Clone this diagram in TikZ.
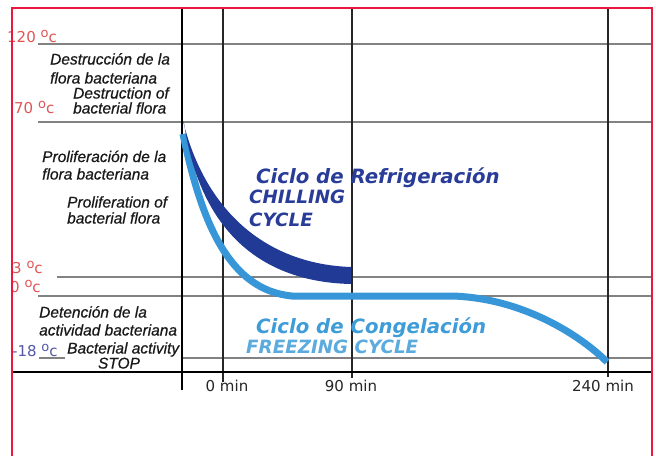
\documentclass[tikz,border=0pt]{standalone}
\usepackage{fontspec}
\setmainfont{Liberation Sans}
\newfontfamily\dv{DejaVu Sans}
\newfontfamily\labfont[FakeBold=0.6]{Liberation Sans}
\definecolor{bordred}{RGB}{232,25,60}
\definecolor{tempred}{RGB}{224,85,85}
\definecolor{tempblue}{RGB}{85,88,168}
\definecolor{gridgray}{RGB}{130,130,130}
\definecolor{chill}{RGB}{32,58,150}
\definecolor{chilltext}{RGB}{40,60,152}
\definecolor{freeze}{RGB}{55,150,215}
\definecolor{freezetext}{RGB}{62,156,216}
\newcommand\mydeg{\raisebox{0.5ex}{\fontsize{13}{13}\selectfont o}c}
\begin{document}
\begin{tikzpicture}[x=1pt,y=-1pt,
  hline/.style={draw=gridgray,line width=2pt},
  vline/.style={draw=black!85,line width=1.6pt},
  lab/.style={anchor=base west,inner sep=0pt,font=\labfont\fontsize{15.5}{16}\selectfont\itshape,text=black!90},
  temp/.style={anchor=base west,inner sep=0pt,font=\dv\fontsize{15}{15}\selectfont,text=tempred},
  tlab/.style={anchor=base,inner sep=0pt,font=\dv\fontsize{15}{15}\selectfont,text=black!85},
  bigt/.style={anchor=base west,inner sep=0pt,font=\dv\bfseries\itshape\fontsize{19.7}{20}\selectfont},
  capt/.style={anchor=base west,inner sep=0pt,font=\dv\bfseries\itshape\fontsize{18.3}{19}\selectfont},
]
\useasboundingbox (0,0) rectangle (656,456);
\fill[white] (0,0) rectangle (656,456);
% horizontal grid lines
\draw[hline] (38,44) coordinate (h120a) -- (652,44) coordinate (h120b);
\draw[hline] (38,122) coordinate (h70a) -- (652,122) coordinate (h70b);
\draw[hline] (57,277) coordinate (h3a) -- (652,277) coordinate (h3b);
\draw[hline] (38,296) coordinate (h0a) -- (652,296) coordinate (h0b);
\draw[hline] (39,358) coordinate (h18a) -- (65,358) coordinate (h18b);
\draw[hline] (182,358) coordinate (h18c) -- (652,358) coordinate (h18d);
% vertical lines
\draw[vline] (223,8) coordinate (v0a) -- (223,382) coordinate (v0b);
\draw[vline] (352,8) coordinate (v90a) -- (352,378) coordinate (v90b);
\draw[vline] (608,8) coordinate (v240a) -- (608,377) coordinate (v240b);
\draw[black,line width=1.8pt] (182,8) coordinate (ya) -- (182,390) coordinate (yb);
\draw[black,line width=1.8pt] (12,372) coordinate (xa) -- (652,372) coordinate (xb);
% freezing curve
\draw[freeze,line width=7pt] (183,134) coordinate (fa) .. controls (201,220) and (228,290) .. (292,296) coordinate (fb)
  -- (452,296) coordinate (fc) .. controls (522,298) and (580,335) .. (607,362) coordinate (fd);
% chilling curve (tapered band)
\fill[chill] (183,121) coordinate (ca) .. controls (205,210) and (265,264) .. (351,267) coordinate (cb)
  -- (351,284) coordinate (cc) .. controls (262,282) and (200,232) .. (184,123) -- cycle;
% temperature labels
\node[temp] (t120) at (7,42) {120 \mydeg};
\node[temp] (t70) at (14,113) {70 \mydeg};
\node[temp] (t3) at (12,273) {3 \mydeg};
\node[temp] (t0) at (10,292) {0 \mydeg};
\node[temp,text=tempblue] (t18) at (12,356) {-18 \mydeg};
% zone labels
\node[lab] (l1) at (50,64.5) {Destrucción de la};
\node[lab] (l2) at (50,83.5) {flora bacteriana};
\node[lab] (l3) at (73,98.5) {Destruction of};
\node[lab] (l4) at (73,113.5) {bacterial flora};
\node[lab] (l5) at (42,162) {Proliferación de la};
\node[lab] (l6) at (42,179.5) {flora bacteriana};
\node[lab] (l7) at (67,207.5) {Proliferation of};
\node[lab] (l8) at (67,223.5) {bacterial flora};
\node[lab] (l9) at (39,317.5) {Detención de la};
\node[lab] (l10) at (39,335.5) {actividad bacteriana};
\node[lab] (l11) at (67,353.5) {Bacterial activity};
\node[lab,anchor=base] (l12) at (119,368.5) {STOP};
% cycle labels
\node[bigt,text=chilltext] (c1) at (256,183) {Ciclo de Refrigeración};
\node[capt,text=chilltext] (c2) at (249,203) {CHILLING};
\node[capt,text=chilltext] (c3) at (249,226) {CYCLE};
\node[bigt,text=freezetext] (c4) at (256,333) {Ciclo de Congelación};
\node[capt,text=freezetext!85!white] (c5) at (246,353) {FREEZING CYCLE};
% time labels
\node[tlab] (m0) at (227,391) {0 min};
\node[tlab] (m90) at (351,391) {90 min};
\node[tlab] (m240) at (603,391) {240 min};
% border
\draw[bordred,line width=2pt] (12,456) coordinate (ba) -- (12,8) coordinate (bb) -- (652,8) coordinate (bc) -- (652,456) coordinate (bd);
\end{tikzpicture}
\end{document}
